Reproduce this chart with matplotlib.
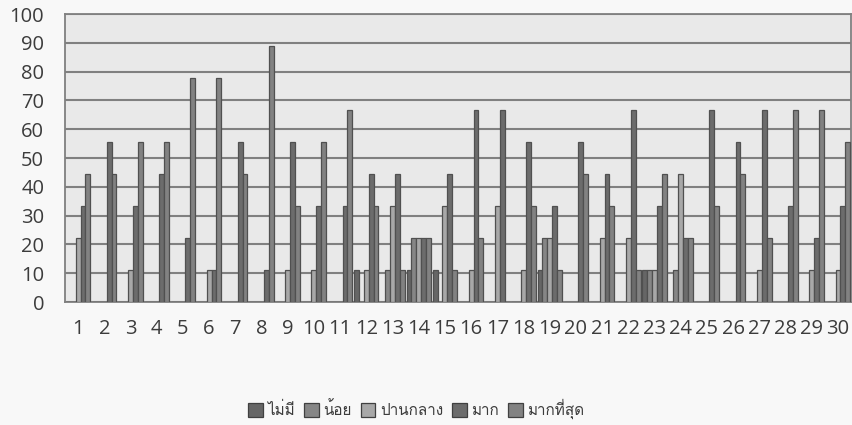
import numpy as np
import matplotlib
matplotlib.use("Agg")
import matplotlib.pyplot as plt
from matplotlib import font_manager
from matplotlib.ft2font import FT2Font

# ข้อมูล (ร้อยละ) แต่ละข้อ 1-30
items = list(range(1, 31))
series_names = ["ไม่มี", "น้อย", "ปานกลาง", "มาก", "มากที่สุด"]

none_ = [0, 0, 0, 0, 0, 0, 0, 0, 0, 0, 0, 11.1, 0, 11.1, 11.1,
         0, 0, 0, 11.1, 0, 0, 0, 11.1, 0, 0, 0, 0, 0, 0, 0]
little = [0, 0, 0, 0, 0, 0, 0, 0, 0, 0, 0, 0, 11.1, 22.2, 0,
          0, 0, 0, 22.2, 0, 0, 0, 11.1, 11.1, 0, 0, 0, 0, 0, 0]
medium = [22.2, 0, 11.1, 0, 0, 11.1, 0, 0, 11.1, 11.1, 0, 11.1, 33.3, 22.2, 33.3,
          11.1, 33.3, 11.1, 22.2, 0, 22.2, 22.2, 11.1, 44.4, 0, 0, 11.1, 0, 11.1, 11.1]
much = [33.3, 55.6, 33.3, 44.4, 22.2, 11.1, 55.6, 11.1, 55.6, 33.3, 33.3, 44.4, 44.4, 22.2, 44.4,
        66.7, 66.7, 55.6, 33.3, 55.6, 44.4, 66.7, 33.3, 22.2, 66.7, 55.6, 66.7, 33.3, 22.2, 33.3]
most = [44.4, 44.4, 55.6, 55.6, 77.8, 77.8, 44.4, 88.9, 33.3, 55.6, 66.7, 33.3, 11.1, 22.2, 11.1,
        22.2, 0, 33.3, 11.1, 44.4, 33.3, 11.1, 44.4, 22.2, 33.3, 44.4, 22.2, 66.7, 66.7, 55.6]

colors = ["#666666", "#868686", "#a8a8a8", "#6c6c6c", "#828282"]


def thai_font():
    # หา font ที่มีอักษรไทย
    for f in font_manager.fontManager.ttflist:
        try:
            if ord("ก") in FT2Font(f.fname).get_charmap():
                return f.name
        except Exception:
            pass
    return "DejaVu Sans"


plt.rcParams["font.family"] = ["Open Sans", "DejaVu Sans"]
tfont = thai_font()

fig = plt.figure(figsize=(8.53, 4.25), dpi=100, facecolor="#f8f8f8")
ax = fig.add_axes([0.0762, 0.2894, 0.9215, 0.6776])
ax.set_facecolor("#e9e9e9")

x = np.array(items)
w = 0.186
data = [none_, little, medium, much, most]
for k, vals in enumerate(data):
    ax.bar(x + (k - 2) * w, vals, width=w, color=colors[k], edgecolor="#505050",
           linewidth=0.9, label=series_names[k], zorder=3)

ax.set_xlim(0.5, 30.5)
ax.set_ylim(0, 100)
ax.set_yticks(range(0, 101, 10))
ax.set_xticks(items)
ax.grid(axis="y", color="#808080", linewidth=1.5, zorder=1)
ax.tick_params(axis="both", length=0, labelsize=14.5, labelcolor="#3c3c3c")
ax.tick_params(axis="y", pad=15)
ax.tick_params(axis="x", pad=12)
for s in ax.spines.values():
    s.set_color("#808080")
    s.set_linewidth(1.3)

leg = fig.legend(loc="center", bbox_to_anchor=(0.488, 0.037), ncol=5, frameon=False,
                 prop={"family": [tfont, "DejaVu Sans"], "size": 11},
                 handlelength=0.95, handleheight=0.95, handletextpad=0.3, columnspacing=0.6)
for h in leg.legend_handles:
    h.set_edgecolor("#404040")
for t in leg.get_texts():
    t.set_color("#3c3c3c")

fig.savefig("out.png", dpi=100, facecolor=fig.get_facecolor())
